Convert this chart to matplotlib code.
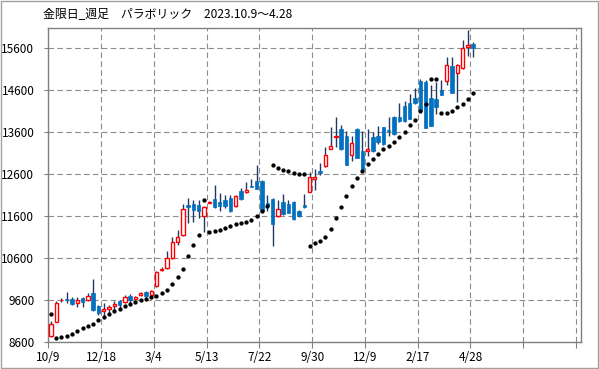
import matplotlib
matplotlib.use("Agg")
import matplotlib.pyplot as plt
from matplotlib.patches import Rectangle

plt.rcParams['font.family'] = ['Noto Sans CJK JP', 'DejaVu Sans']

# weekly candles (open, high, low, close), 2023.10.9 ~ 2025.4.28
opens = [8725, 9067, 9585, 9616, 9616, 9520, 9640, 9584, 9759, 9457,
         9322, 9377, 9441, 9560, 9544, 9695, 9624, 9711, 9783, 9703,
         9918, 10305, 10361, 10600, 10974, 11157, 11857, 11894, 11870, 11592,
         11915, 12006, 11926, 11990, 12030, 11847, 12205, 12165, 12324, 12427,
         12427, 11920, 12003, 11606, 11932, 11884, 11940, 11725, 11860, 12180,
         12473, 12680, 12799, 13205, 13475, 13680, 13512, 13043, 13680, 13155,
         13139, 13481, 13512, 13719, 13656, 13958, 13950, 14213, 14298, 14417,
         14815, 14800, 14410, 14388, 14603, 14830, 15180, 15020, 15136, 15640,
         15700]
highs = [9083, 9560, 9640, 9783, 9656, 9656, 9656, 9759, 10101, 9481,
         9520, 9481, 9560, 9584, 9719, 9735, 9680, 9783, 9799, 9823,
         10292, 10385, 10775, 11093, 11276, 11873, 12032, 11990, 11990, 11847,
         11950, 12348, 12149, 12109, 12109, 12093, 12268, 12403, 12483, 12825,
         12467, 12100, 12019, 11979, 12123, 11979, 11964, 11741, 12123, 12650,
         12711, 12855, 13236, 13730, 13968, 13775, 13616, 13497, 13700, 13632,
         13672, 13592, 13735, 13730, 13950, 13990, 14292, 14332, 14500, 14656,
         14870, 14839, 14720, 14799, 14839, 15400, 15400, 15230, 15800, 16035,
         15750]
lows = [8709, 9059, 9536, 9520, 9481, 9425, 9425, 9560, 9322, 9242,
        9202, 9282, 9322, 9401, 9520, 9505, 9600, 9680, 9640, 9680,
        9902, 10298, 10337, 10576, 10918, 11133, 11435, 11449, 11552, 11210,
        11905, 11791, 11711, 11791, 11688, 11815, 11990, 12149, 12284, 12244,
        11688, 11720, 10882, 11566, 11622, 11661, 11502, 11582, 11781, 12180,
        12218, 12576, 12775, 13189, 13252, 13178, 12820, 12900, 12970, 12661,
        13019, 13115, 13322, 13298, 13512, 13536, 13831, 13850, 13908, 14266,
        14100, 13701, 13740, 14043, 14481, 14720, 14540, 14325, 15095, 15420,
        15380]
closes = [9027, 9520, 9605, 9584, 9497, 9600, 9536, 9695, 9361, 9282,
          9377, 9417, 9505, 9465, 9664, 9584, 9656, 9759, 9680, 9807,
          10260, 10335, 10600, 10982, 11101, 11769, 11817, 11735, 11727, 11807,
          11940, 11815, 11847, 11847, 11711, 12069, 12006, 12213, 12292, 12252,
          11711, 11840, 11407, 11757, 11645, 11669, 11518, 11598, 11820, 12520,
          12520, 12616, 13053, 13268, 13507, 13194, 12820, 13337, 12980, 12701,
          13194, 13139, 13353, 13322, 13616, 13552, 13855, 13855, 13924, 14282,
          14112, 13705, 13750, 14197, 14484, 15190, 14540, 15200, 15617, 15670,
          15613]
# parabolic SAR
sar = [9266, 8685, 8701, 8725, 8789, 8860, 8916, 8972, 9019, 9107,
       9194, 9258, 9337, 9385, 9457, 9505, 9544, 9584, 9624, 9672,
       9695, 9759, 9830, 9965, 10134, 10334, 10644, 10910, 11139, 11990,
       11218, 11250, 11274, 11306, 11350, 11396, 11430, 11460, 11510, 11595,
       11726, 11836, 12811, 12740, 12703, 12680, 12636, 12608, 12596, 10890,
       10945, 11013, 11108, 11283, 11542, 11820, 12067, 12312, 12496, 12675,
       12834, 12957, 13076, 13192, 13271, 13358, 13474, 13610, 13760, 13900,
       14100, 14260, 14860, 14860, 14046, 14067, 14107, 14202, 14266, 14385,
       14536]
date_labels = ['10/9', '12/18', '3/4', '5/13', '7/22', '9/30', '12/9', '2/17', '4/28']
y_ticks = [8600, 9600, 10600, 11600, 12600, 13600, 14600, 15600]

fig = plt.figure(figsize=(5.99, 3.69), dpi=100)
ax = fig.add_axes([48.3 / 599, 1 - 341.7 / 369, 533 / 599, 314 / 369])

# outer frame
fig.patches.append(Rectangle((0.001, 0.002), 0.997, 0.995, transform=fig.transFigure,
                             fill=False, edgecolor='#a0a0a0', linewidth=1))

xs = [i + 0.5 for i in range(len(opens))]
ax.vlines(xs, lows, highs, color='#1f3864', linewidth=1, zorder=3)
for x, o, c in zip(xs, opens, closes):
    lo, hi = min(o, c), max(o, c)
    h = max(hi - lo, 12)
    if c >= o:
        ax.add_patch(Rectangle((x - 0.32, lo), 0.64, h, facecolor='white',
                               edgecolor='#ff0000', linewidth=1, zorder=4))
    else:
        ax.add_patch(Rectangle((x - 0.32, lo), 0.64, h, facecolor='#0070c0',
                               edgecolor='#0070c0', linewidth=0.5, zorder=4))

ax.plot(xs, sar, 'o', color='black', markersize=2.1, zorder=5)

ax.set_xlim(0, 101)
ax.set_ylim(8600, 16090)
ax.set_xticks(range(0, 101, 10))
ax.set_xticklabels(date_labels + ['', ''])
ax.set_yticks(y_ticks)
ax.set_yticklabels([str(v) for v in y_ticks])
ax.grid(True, color='#8c8c8c', linestyle=(0, (5, 3)), linewidth=0.8, zorder=0)
ax.tick_params(axis='x', length=4, color='#808080', labelsize=8.5, pad=3)
ax.tick_params(axis='y', length=3, color='#808080', labelsize=8.5, pad=7)
for s in ax.spines.values():
    s.set_color('#808080')
    s.set_linewidth(1)

fig.text(43 / 599, 1 - 15 / 369, '金限日_週足　パラボリック　2023.10.9～4.28',
         fontsize=8.6, va='center', ha='left')

fig.savefig('out.png', dpi=100)
